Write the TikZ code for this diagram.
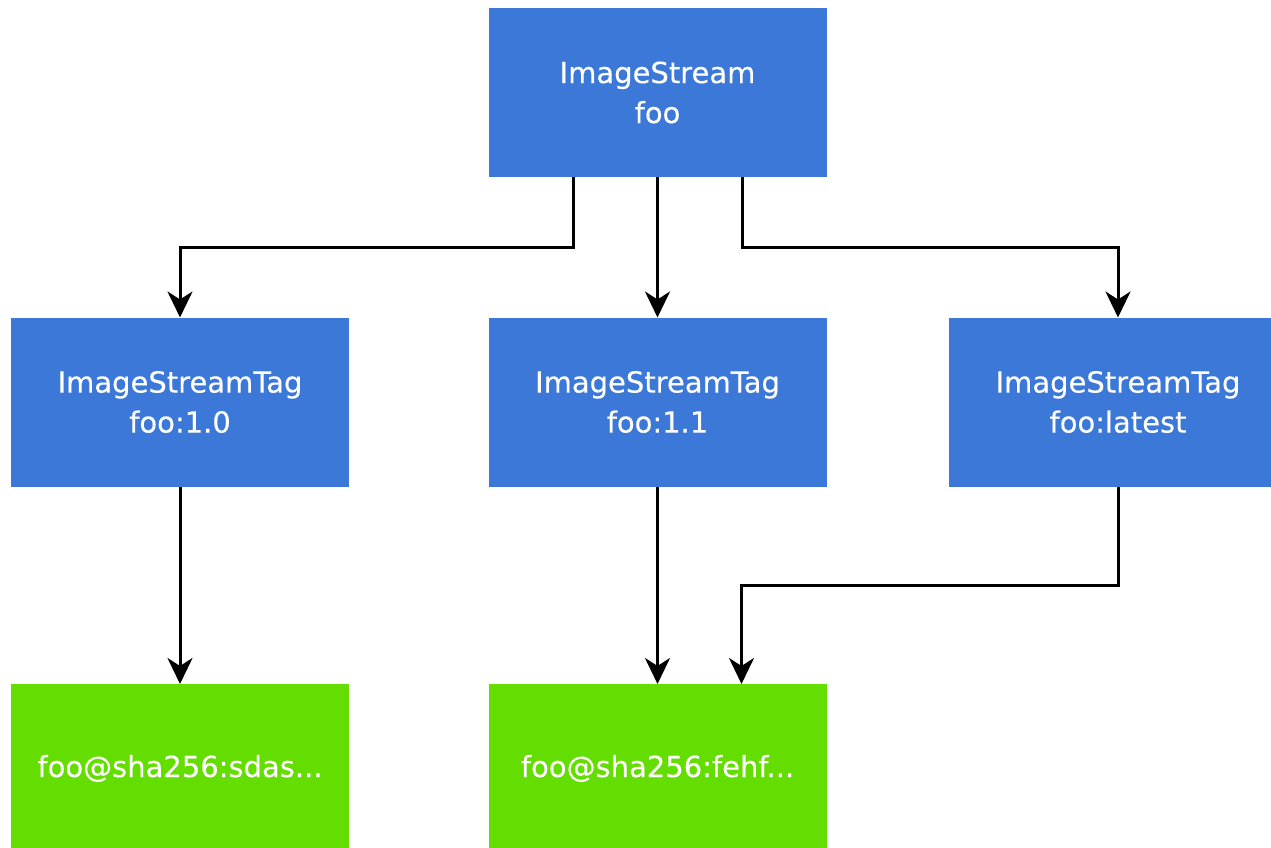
\documentclass[tikz,border=0pt]{standalone}
\usepackage{fontspec}
\setmainfont{DejaVu Sans}
\newfontfamily\labelfont{DejaVu Sans}[FakeBold=0.3]
\usetikzlibrary{arrows.meta}
\definecolor{streamblue}{HTML}{3C78D8}
\definecolor{imagegreen}{HTML}{64DD00}
\tikzset{
  box/.style={rectangle, minimum width=338pt, minimum height=169pt,
    inner sep=0pt, outer sep=0pt, text=white, align=center,
    font=\labelfont\fontsize{29}{40}\selectfont},
  tagbox/.style={box, fill=streamblue},
  imgbox/.style={box, fill=imagegreen},
  arr/.style={draw=black, line width=3pt,
    -{Stealth[length=26pt, width=25pt, inset=8pt]}}
}
\begin{document}
\begin{tikzpicture}[x=1pt, y=-1pt]
  \fill[white] (0,0) rectangle (1271,848);
  \useasboundingbox (0,0) rectangle (1271,848);

  % image stream
  \node[tagbox] (is) at (657.5,92.5) {ImageStream\\foo};

  % image stream tags
  \node[tagbox] (t10) at (180,402) {ImageStreamTag\\foo:1.0};
  \node[tagbox] (t11) at (657.5,402) {ImageStreamTag\\foo:1.1};
  \node[tagbox] (tlat) at (1118,402) {ImageStreamTag\\foo:latest};

  % images
  \node[imgbox] (img1) at (180,768.5) {foo@sha256:sdas...};
  \node[imgbox] (img2) at (657.5,768.5) {foo@sha256:fehf...};

  % stream -> tags
  \draw[arr] ([xshift=-84.5pt]is.south) -- ++(0,70) -| (t10.north);
  \draw[arr] (is.south) -- (t11.north);
  \draw[arr] ([xshift=84.5pt]is.south) -- ++(0,70) -| (tlat.north);

  % tags -> images
  \draw[arr] (t10.south) -- (img1.north);
  \draw[arr] (t11.south) -- (img2.north);
  \draw[arr] (tlat.south) -- ++(0,99) -| ([xshift=84pt]img2.north);
\end{tikzpicture}
\end{document}
